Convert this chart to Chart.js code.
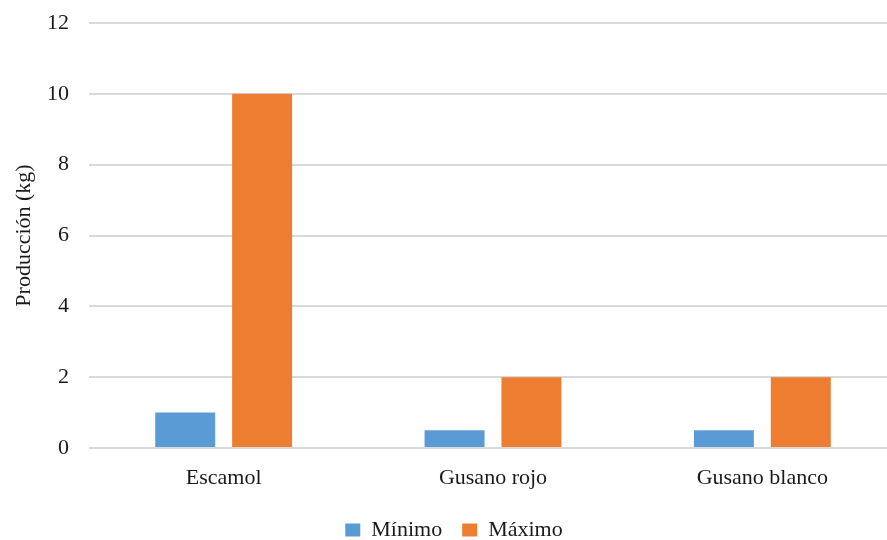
<!DOCTYPE html>
<html>
<head>
<meta charset="utf-8">
<script src="https://cdn.jsdelivr.net/npm/chart.js@4/dist/chart.umd.min.js"></script>
<style>
  html, body { margin: 0; padding: 0; background: #fff; overflow: hidden; }
  #wrap { width: 905px; height: 540px; position: relative; }
</style>
</head>
<body>
<div id="wrap"><canvas id="chartProduccion"></canvas></div>
<script>
// Producción mínima y máxima por especie (kg)
const categories = ["Escamol", "Gusano rojo", "Gusano blanco"];
const minimo = [1, 0.5, 0.5];
const maximo = [10, 2, 2];

const FONT = "'Liberation Serif', 'DejaVu Serif', serif";
const TEXT = "#1a1a1a";

const ctx = document.getElementById("chartProduccion").getContext("2d");

new Chart(ctx, {
  type: "bar",
  data: {
    labels: categories,
    datasets: [
      {
        label: "Mínimo",
        data: minimo,
        backgroundColor: "#5b9bd5",
        borderWidth: 0,
        categoryPercentage: 0.571,
        barPercentage: 0.78
      },
      {
        label: "Máximo",
        data: maximo,
        backgroundColor: "#ed7d31",
        borderWidth: 0,
        categoryPercentage: 0.571,
        barPercentage: 0.78
      }
    ]
  },
  options: {
    responsive: true,
    maintainAspectRatio: false,
    animation: false,
    layout: { padding: { top: 23, right: 8, bottom: -11, left: 11 } },
    plugins: {
      tooltip: { enabled: false },
      legend: {
        display: true,
        position: "bottom",
        labels: {
          color: TEXT,
          font: { size: 22, family: FONT },
          boxWidth: 15,
          boxHeight: 13,
          padding: 20
        }
      }
    },
    scales: {
      x: {
        grid: { display: false },
        border: { display: false },
        ticks: { color: TEXT, font: { size: 22, family: FONT }, padding: 9 },
        afterFit(scale) { scale.height = 51; }
      },
      y: {
        min: 0,
        max: 12,
        grid: { color: "#d9d9d9", lineWidth: 2, drawTicks: false },
        border: { display: false },
        ticks: { color: TEXT, font: { size: 22, family: FONT }, stepSize: 2, padding: 20 },
        title: {
          display: true,
          text: "Producción (kg)",
          color: TEXT,
          font: { size: 22, family: FONT },
          padding: { top: 0, bottom: 0 }
        },
        afterFit(scale) {
          scale.width = 78;
          scale.paddingTop = 0;
          scale.paddingBottom = 0;
        }
      }
    }
  }
});
</script>
</body>
</html>
